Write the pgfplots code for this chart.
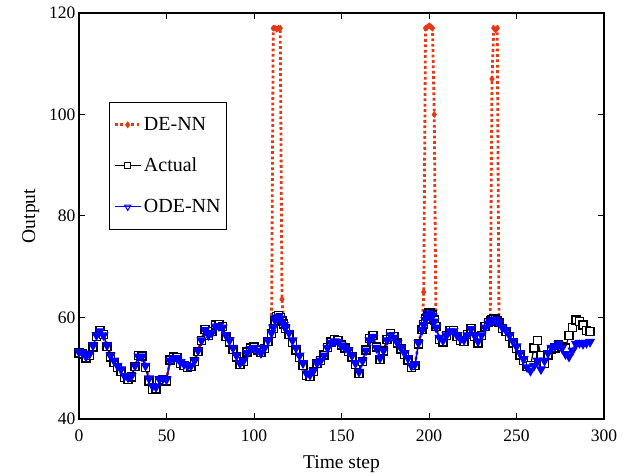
\documentclass[border=0pt]{standalone}
\usepackage{fontspec}
\setmainfont{Liberation Serif}
\usepackage{pgfplots}
\usepackage{pgfplotstable}
\pgfplotsset{compat=1.18}
\definecolor{denn}{RGB}{228,58,20}
\definecolor{odenn}{RGB}{0,0,255}

% t, ODE-NN, Actual, DE-NN
\pgfplotstableread{
t ode act de
0 53.2 53.0 53.2
2 53.0 52.8 53.1
4 52.3 52.0 52.4
6 52.8 52.5 52.9
8 54.5 54.2 54.5
10 56.5 56.3 56.4
12 57.3 57.4 57.2
14 56.5 56.6 56.5
16 54.5 54.3 54.6
18 52.5 52.2 52.6
20 51.5 51.2 51.5
22 50.5 50.1 50.6
24 49.8 49.4 49.8
26 48.5 48.2 48.6
28 48.2 47.8 48.2
30 48.5 48.3 48.5
32 50.5 50.3 50.4
34 52.3 52.5 52.2
36 52.3 52.4 52.3
38 50.5 50.2 50.6
40 48.0 47.5 48.1
42 46.5 45.8 46.6
44 46.3 45.9 46.4
46 47.8 47.5 47.8
48 48.0 47.7 48.0
50 47.8 47.5 47.9
52 51.5 51.6 51.4
54 52.0 52.2 52.0
56 52.0 52.1 52.0
58 51.2 51.0 51.2
60 50.8 50.5 50.8
62 50.5 50.2 50.5
64 50.5 50.3 50.5
66 51.5 51.3 51.5
68 53.5 53.3 53.4
70 55.5 55.4 55.5
72 57.5 57.7 57.4
74 56.5 56.4 56.5
76 57.0 57.2 57.0
78 58.2 58.5 58.2
80 58.3 58.6 58.3
82 58.0 58.2 58.0
84 56.5 56.3 56.5
86 55.5 55.2 55.5
88 54.0 53.7 54.0
90 52.5 52.2 52.5
92 51.0 50.7 51.1
94 51.5 51.3 51.5
96 53.0 53.2 53.0
98 53.8 54.0 53.8
100 54.0 54.2 54.0
102 53.5 53.6 53.5
104 53.0 53.1 53.0
106 54.0 53.9 54.0
108 55.5 55.3 55.5
110 57.0 56.8 57.0
111 58.0 57.8 117.0
112 59.5 59.3 117.0
113 60.0 60.2 116.8
114 60.2 60.4 117.0
115 59.8 60.0 117.0
116 59.0 59.3 63.6
117 58.5 58.7 59.0
118 58.0 57.9 58.0
120 57.0 56.7 57.0
122 55.5 55.1 55.5
124 54.0 53.6 54.0
126 52.5 52.1 52.5
128 51.0 50.6 51.0
130 49.0 48.6 49.0
132 48.7 48.4 48.8
134 49.5 49.3 49.5
136 51.0 50.9 51.0
138 51.5 51.5 51.5
140 52.5 52.6 52.5
142 54.0 54.1 54.0
144 55.0 55.2 55.0
146 55.3 55.6 55.3
148 55.2 55.5 55.2
150 54.5 54.6 54.5
152 54.0 54.0 54.0
154 53.5 53.3 53.5
156 52.5 52.2 52.5
158 51.0 50.7 51.0
160 49.3 48.9 49.3
162 51.5 51.3 51.5
164 53.5 53.6 53.5
166 55.5 55.8 55.5
168 56.2 56.5 56.2
170 54.0 54.2 54.1
172 52.0 51.7 52.0
174 53.5 53.4 53.5
176 55.5 55.7 55.5
178 56.5 56.8 56.5
180 56.0 56.2 56.0
182 55.0 55.0 55.0
184 54.0 53.8 54.0
186 53.0 52.7 53.0
188 52.0 51.6 52.0
190 50.5 50.1 50.5
192 50.8 50.5 50.8
194 55.0 54.8 55.0
196 57.5 57.6 57.5
197 58.5 58.6 65.0
198 59.5 59.7 117.0
199 60.3 60.5 117.2
200 60.8 61.0 117.5
201 60.6 60.9 117.3
202 60.3 60.5 117.0
203 59.2 59.5 100.0
204 58.0 58.2 58.0
206 56.0 55.7 56.0
208 55.5 55.2 55.5
210 56.5 56.5 56.5
212 57.3 57.5 57.3
214 57.3 57.4 57.3
216 56.5 56.3 56.5
218 55.8 55.4 55.8
220 55.6 55.3 55.6
222 56.5 56.6 56.5
224 57.7 57.9 57.7
226 56.5 56.3 56.5
228 55.3 55.0 55.3
230 56.5 56.5 56.5
232 58.0 58.2 58.0
234 58.8 59.0 58.8
235 59.2 59.3 59.2
236 59.4 59.5 107.0
237 59.6 59.7 117.0
238 59.6 59.7 116.7
239 59.2 59.3 117.0
240 59.0 59.0 59.0
242 58.0 57.8 58.2
244 57.5 57.2 57.5
246 56.5 56.2 56.5
248 55.3 55.0 55.3
250 54.3 53.9 54.3
252 53.0 52.6 53.0
254 51.8 51.5 51.8
256 50.2 50.4 50.2
258 49.5 50.5 49.6
260 50.5 54.0 50.6
262 51.5 55.5 51.5
264 49.8 52.5 49.9
266 51.5 51.0 51.5
268 53.0 52.6 53.0
270 54.0 53.7 54.0
272 54.3 54.0 54.3
274 54.8 54.6 54.8
276 54.0 54.3 54.0
278 52.8 54.0 52.9
280 52.3 56.5 52.3
282 53.5 58.0 53.5
284 54.8 59.5 54.8
286 55.0 59.2 55.0
288 54.8 58.5 54.9
290 55.0 57.5 55.0
292 55.2 57.3 55.1
}\datatable

\begin{document}
\begin{tikzpicture}
\begin{axis}[
    scale only axis,
    width=525pt,
    height=406pt,
    xmin=0, xmax=300,
    ymin=40, ymax=120,
    xtick={0,50,...,300},
    ytick={40,60,...,120},
    axis line style={line width=1.2pt},
    major tick style={line width=1pt, black},
    major tick length=6pt,
    tick align=inside,
    /pgf/number format/assume math mode=true,
    tick label style={font=\fontsize{17.5}{20}\selectfont},
    xticklabel style={yshift=-7pt},
    label style={font=\fontsize{19.5}{22}\selectfont},
    xlabel={Time step},
    ylabel={Output},
    xlabel style={yshift=-7pt},
    ylabel style={yshift=3pt},
    legend cell align=left,
    legend style={at={(rel axis cs:0.057,0.781)}, anchor=north west,
        draw=black, line width=1.2pt, font=\fontsize{20}{23}\selectfont,
        row sep=22pt, inner xsep=4pt, inner ysep=13pt},
    legend image code/.code={
        \draw[mark repeat=2,mark phase=2,#1] plot coordinates {(0cm,0cm) (0.45cm,0cm) (0.9cm,0cm)};},
]
\coordinate (sw) at (rel axis cs:0,0);
\coordinate (ne) at (rel axis cs:1,1);
\addplot[color=denn, line width=2.8pt, dash pattern=on 2.8pt off 2.6pt,
    mark=diamond*, mark size=3pt, mark options={solid, fill=denn, line width=0.6pt}]
    table[x=t, y=de] {\datatable};
\addplot[color=black, line width=1.2pt, mark=square*, mark size=4pt,
    mark options={solid, line width=1.3pt, fill=white},
    legend image post style={mark size=3pt, mark options={solid, line width=1pt, fill=white}}]
    table[x=t, y=act] {\datatable};
\addplot[color=odenn, line width=1.2pt, mark=triangle*, mark size=4.7pt,
    mark options={solid, rotate=180, line width=1.2pt, fill=odenn},
    legend image post style={mark=triangle, mark size=3.6pt, mark options={solid, rotate=180, line width=1pt}}]
    table[x=t, y=ode] {\datatable};
\legend{DE-NN, Actual, ODE-NN}
\end{axis}
\path ([shift={(-79pt,-57pt)}]sw) rectangle ([shift={(28pt,13pt)}]ne);
\end{tikzpicture}
\end{document}
